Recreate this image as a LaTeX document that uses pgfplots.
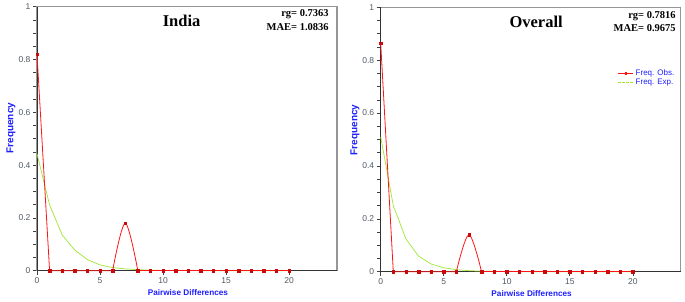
\documentclass[border=0pt]{standalone}
\usepackage{pgfplots}
\pgfplotsset{compat=1.18}
\usepackage{fontspec}
\setmainfont{Liberation Serif}
\newfontfamily\arial{Liberation Sans}
\definecolor{obsred}{RGB}{255,20,20}
\definecolor{markred}{RGB}{200,10,10}
\definecolor{expgreen}{RGB}{160,230,50}
\definecolor{lblblue}{RGB}{30,30,255}
\definecolor{tickgray}{RGB}{80,90,100}
\definecolor{framegray}{RGB}{150,150,150}

\pgfplotsset{
  panel/.style={
    scale only axis, width=300pt, height=264pt,
    anchor=south west,
    xmin=0, xmax=23.8, ymin=0, ymax=1,
    xtick={0,5,10,15,20}, ytick={0,0.2,0.4,0.6,0.8,1},
    minor y tick num=3,
    tick pos=left, tick align=outside,
    major tick length=4pt, minor tick length=3.5pt,
    every tick/.style={black!75, line width=0.6pt},
    axis line style={framegray, line width=1.1pt},
    /pgf/number format/assume math mode=true,
    tick label style={font=\arial\fontsize{8.5}{10}\selectfont, text=tickgray},
    xticklabel style={yshift=1pt},
    yticklabel style={xshift=1pt},
    clip=false,
    xlabel={Pairwise Differences},
    ylabel={Frequency},
    xlabel style={font=\arial\bfseries\fontsize{8.2}{10}\selectfont, text=lblblue, at={(axis description cs:0.503,-0.084)}, anchor=center},
    ylabel style={font=\arial\bfseries\fontsize{10}{12}\selectfont, text=lblblue, at={(axis description cs:-0.087,0.54)}, anchor=center, rotate=0},
    legend cell align=left,
  },
  obsline/.style={obsred, line width=0.8pt, no marks},
  obsmark/.style={only marks, mark=square*, mark size=1.2pt, color=markred},
  expline/.style={expgreen, line width=0.7pt, no marks},
}

\begin{document}
\begin{tikzpicture}
\useasboundingbox (0,0) rectangle (685pt,301pt);

% ---------------- India ----------------
\begin{axis}[panel, at={(37pt,30.3pt)}]
\draw[black!80, line width=0.9pt] (rel axis cs:0,1) -- (rel axis cs:0,0) -- (rel axis cs:1,0);
\addplot[expline] coordinates {
(0,0.443) (1,0.249) (2,0.135) (3,0.078) (4,0.042) (5,0.022) (6,0.012) (7,0.007)
(8,0.004) (9,0.002) (10,0.001) (11,0.0005) (12,0.0003) (13,0.0002) (14,0.0001)
(15,0) (16,0) (17,0) (18,0) (19,0) (20,0)};
\addplot[obsline] coordinates {(0,0.82) (1,0) (2,0) (3,0) (4,0) (5,0) (6,0)};
\addplot[obsline, smooth, tension=0.55] coordinates {(6,0) (7,0.18) (8,0)};
\addplot[obsline] coordinates {(8,0) (9,0) (10,0) (11,0) (12,0) (13,0) (14,0) (15,0) (16,0) (17,0) (18,0) (19,0) (20,0)};
\addplot[obsmark] coordinates {
(0,0.82) (1,0) (2,0) (3,0) (4,0) (5,0) (6,0) (7,0.18) (8,0) (9,0) (10,0)
(11,0) (12,0) (13,0) (14,0) (15,0) (16,0) (17,0) (18,0) (19,0) (20,0)};
\node[font=\bfseries\fontsize{16.5}{18}\selectfont, anchor=center] at (axis description cs:0.482,0.945) {India};
\node[font=\bfseries\fontsize{10.5}{12}\selectfont, anchor=east, inner sep=0pt] at (axis description cs:0.973,0.971) {rg= 0.7363};
\node[font=\bfseries\fontsize{10.5}{12}\selectfont, anchor=east, inner sep=0pt] at (axis description cs:0.973,0.924) {MAE= 1.0836};
\end{axis}

% ---------------- Overall ----------------
\begin{axis}[panel, at={(380.7pt,29.3pt)}, height=264.4pt,
  ylabel style={at={(axis description cs:-0.086,0.536)}},
  legend style={at={(axis description cs:0.79,0.772)}, anchor=north west, draw=none, fill=none,
    font=\arial\fontsize{8}{9}\selectfont, text=lblblue, inner sep=0pt, row sep=-2.2pt,
    /tikz/every even column/.append style={column sep=2pt}},
  legend image code/.code={\draw[mark repeat=2,mark phase=2,#1] plot coordinates {(0pt,0pt) (7.5pt,0pt) (15pt,0pt)};},
]
\draw[black!80, line width=0.9pt] (rel axis cs:0,1) -- (rel axis cs:0,0) -- (rel axis cs:1,0);
\addplot[expline, forget plot] coordinates {
(0,0.51) (1,0.25) (2,0.124) (3,0.059) (4,0.029) (5,0.015) (6,0.0076) (7,0.004)
(8,0.002) (9,0.001) (10,0.0005) (11,0.0003) (12,0.0001) (13,0) (14,0)
(15,0) (16,0) (17,0) (18,0) (19,0) (20,0)};
\addplot[obsline, forget plot] coordinates {(0,0.864) (1,0) (2,0) (3,0) (4,0) (5,0) (6,0)};
\addplot[obsline, smooth, tension=0.55, forget plot] coordinates {(6,0) (7,0.14) (8,0)};
\addplot[obsline, forget plot] coordinates {(8,0) (9,0) (10,0) (11,0) (12,0) (13,0) (14,0) (15,0) (16,0) (17,0) (18,0) (19,0) (20,0)};
\addplot[obsmark, forget plot] coordinates {
(0,0.864) (1,0) (2,0) (3,0) (4,0) (5,0) (6,0) (7,0.14) (8,0) (9,0) (10,0)
(11,0) (12,0) (13,0) (14,0) (15,0) (16,0) (17,0) (18,0) (19,0) (20,0)};
\addlegendimage{color=obsred, draw=obsred, line width=0.8pt, mark=square*, mark size=0.7pt, mark options={fill=obsred, draw=obsred, solid}}
\addlegendentry{Freq. Obs.}
\addlegendimage{color=expgreen, draw=expgreen, line width=0.8pt, dash pattern=on 2.5pt off 1.5pt}
\addlegendentry{Freq. Exp.}
\node[font=\bfseries\fontsize{16.5}{18}\selectfont, anchor=center] at (axis description cs:0.518,0.946) {Overall};
\node[font=\bfseries\fontsize{10.5}{12}\selectfont, anchor=east, inner sep=0pt] at (axis description cs:0.984,0.968) {rg= 0.7816};
\node[font=\bfseries\fontsize{10.5}{12}\selectfont, anchor=east, inner sep=0pt] at (axis description cs:0.984,0.92) {MAE= 0.9675};
\end{axis}
\end{tikzpicture}
\end{document}
